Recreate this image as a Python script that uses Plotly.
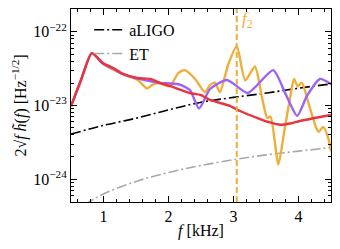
import numpy as np
import plotly.graph_objects as go

# ---- data (log10 of 2*sqrt(f)*|h(f)|, f in kHz) ----
f_red = [0.5, 0.66, 0.82, 0.99, 1.15, 1.30, 1.52, 1.72, 1.87, 2.02, 2.33, 2.49, 2.64, 2.95, 3.10, 3.41, 3.56,
         3.72, 3.87, 4.02, 4.33, 4.5]
log_red = [-23.007, -22.640, -22.290, -22.422, -22.490, -22.571, -22.626, -22.639, -22.694, -22.735, -22.830,
           -22.857, -22.925, -23.007, -23.075, -23.184, -23.230, -23.262, -23.245, -23.211, -23.156, -23.129]

f_purple = [0.5, 0.66, 0.82, 0.99, 1.15, 1.30, 1.52, 1.72, 1.87, 2.02, 2.17, 2.33, 2.47, 2.64, 2.90, 3.22, 3.61,
            3.80, 3.98, 4.13, 4.33, 4.5]
log_purple = [-23.007, -22.640, -22.290, -22.430, -22.500, -22.575, -22.635, -22.670, -22.694, -22.700, -22.715,
              -22.790, -23.040, -22.776, -22.653, -22.830, -22.520, -22.840, -23.140, -22.870, -22.640, -22.710]

f_orange = [0.5, 0.66, 0.82, 0.99, 1.25, 1.52, 1.67, 1.75, 1.85, 2.02, 2.15, 2.25, 2.41, 2.56, 2.64, 2.715, 2.79,
            2.92, 3.05, 3.18, 3.33, 3.44, 3.52, 3.57, 3.69, 3.79, 3.87, 3.93, 3.99, 4.05, 4.18, 4.28, 4.31,
            4.38, 4.46, 4.5]
log_orange = [-23.007, -22.640, -22.290, -22.435, -22.558, -22.650, -22.770, -22.720, -22.700, -22.740, -22.560,
              -22.520, -22.640, -22.820, -22.720, -22.690, -22.820, -22.440, -22.190, -22.660, -22.470, -22.900,
              -23.170, -23.150, -23.800, -23.300, -22.900, -22.640, -22.740, -22.690, -23.050, -23.320, -23.360,
              -23.290, -23.450, -23.620]

f_aligo = [0.5, 1.0, 1.515, 2.0, 2.485, 3.0, 3.515, 4.0, 4.5]
log_aligo = [-23.388, -23.270, -23.170, -23.060, -22.959, -22.890, -22.830, -22.765, -22.707]

f_et = [0.5, 0.746, 0.992, 1.515, 2.0, 2.485, 3.054, 3.5, 4.0, 4.5]
log_et = [-24.50, -24.327, -24.204, -24.027, -23.910, -23.816, -23.728, -23.670, -23.620, -23.571]

f2 = 3.05

x_ticks = [1, 2, 3, 4]
y_tickvals = [1e-24, 1e-23, 1e-22]
y_ticktext = ["10<sup>−24</sup>", "10<sup>−23</sup>", "10<sup>−22</sup>"]
y_minor = [m * 10.0**e for e in (-25, -24, -23, -22) for m in range(2, 10)]

ORANGE = "#EFAE3A"
PURPLE = "#9B63F5"
RED = "#E8343E"
FONT = "Liberation Serif"
DASHDOT = "10px,3px,2px,3px"

fig = go.Figure()
fig.add_trace(go.Scatter(x=f_aligo, y=[10**v for v in log_aligo], mode="lines", name="aLIGO",
                         line=dict(color="black", width=1.6, dash=DASHDOT, shape="spline")))
fig.add_trace(go.Scatter(x=f_et, y=[10**v for v in log_et], mode="lines", name="ET",
                         line=dict(color="#A8A8A8", width=1.6, dash=DASHDOT, shape="spline")))
fig.add_trace(go.Scatter(x=f_orange, y=[10**v for v in log_orange], mode="lines", showlegend=False,
                         line=dict(color=ORANGE, width=2.4, shape="spline", smoothing=0.6)))
fig.add_trace(go.Scatter(x=f_purple, y=[10**v for v in log_purple], mode="lines", showlegend=False,
                         line=dict(color=PURPLE, width=2.4, shape="spline", smoothing=0.6)))
fig.add_trace(go.Scatter(x=f_red, y=[10**v for v in log_red], mode="lines", showlegend=False,
                         line=dict(color=RED, width=2.4, shape="spline", smoothing=0.6)))

fig.add_shape(type="line", xref="x", yref="paper", x0=f2, x1=f2, y0=0, y1=1,
              line=dict(color=ORANGE, width=2, dash="6px,3px"))
fig.add_annotation(x=f2, xref="x", y=1, yref="paper", yshift=-11, xshift=3, xanchor="left",
                   yanchor="middle", text="<i>f</i><sub>2</sub>", showarrow=False,
                   font=dict(family=FONT, size=17, color=ORANGE))

# the page body adds an 8px offset; margins are set so the plot lands where the reference has it
fig.update_layout(
    width=332, height=241,
    margin=dict(l=63, r=9, t=1, b=47, autoexpand=False),
    paper_bgcolor="white", plot_bgcolor="white",
    font=dict(family=FONT, size=16, color="black"),
    showlegend=True,
    legend=dict(x=0.07, y=0.98, xanchor="left", yanchor="top", bgcolor="rgba(0,0,0,0)",
                font=dict(family=FONT, size=16), tracegroupgap=0),
)
fig.update_xaxes(
    range=[0.5, 4.5], tickvals=x_ticks, ticks="inside", ticklen=6, tickwidth=1, tickcolor="black",
    showline=True, linecolor="black", linewidth=1, mirror="ticks", showgrid=False, zeroline=False,
    minor=dict(dtick=0.2, ticks="inside", ticklen=3, tickcolor="black", showgrid=False),
    title=dict(text="<i>f</i> [kHz]", standoff=0, font=dict(size=16)),
    tickfont=dict(size=16), automargin=False,
)
fig.update_yaxes(
    type="log", range=[-24.31, -21.69], tickvals=y_tickvals, ticktext=y_ticktext,
    ticks="inside", ticklen=6, tickwidth=1, tickcolor="black",
    showline=True, linecolor="black", linewidth=1, mirror="ticks", showgrid=False, zeroline=False,
    minor=dict(tickvals=y_minor, ticks="inside", ticklen=3, tickcolor="black", showgrid=False),
    title=dict(text="2√<i>f</i> <i>h̃</i>(<i>f</i>) [Hz<sup>−1/2</sup>]", standoff=2, font=dict(size=16)),
    tickfont=dict(size=16), automargin=False,
)

fig.write_html("out.html")
